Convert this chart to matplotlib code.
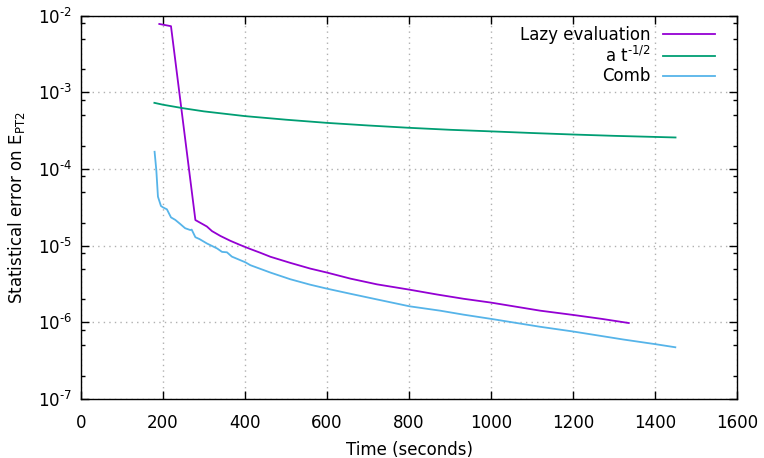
import math
import matplotlib
matplotlib.use('Agg')
import matplotlib.pyplot as plt
from matplotlib.ticker import LogLocator, FixedLocator, NullFormatter, FuncFormatter

# Lazy evaluation run: error vs wall time
lazy_t = [191, 219.5, 279, 307, 319.5, 340, 364, 388.5, 413, 437, 462, 510.5,
          559, 600, 657, 722, 801, 868, 933, 1000, 1120, 1200, 1270, 1336]
lazy_err = [7.8e-3, 7.3e-3, 2.16e-5, 1.78e-5, 1.55e-5, 1.34e-5, 1.16e-5, 1.02e-5,
            9.05e-6, 8.1e-6, 7.17e-6, 5.97e-6, 5.03e-6, 4.46e-6, 3.72e-6, 3.13e-6,
            2.67e-6, 2.31e-6, 2.03e-6, 1.81e-6, 1.42e-6, 1.25e-6, 1.11e-6, 9.8e-7]

# a t^-1/2 reference curve
fit_t = [179, 200, 250, 300, 400, 500, 600, 700, 800, 900, 1000, 1100, 1200, 1300, 1450]
fit_err = [7.3e-4, 6.9e-4, 6.2e-4, 5.65e-4, 4.9e-4, 4.4e-4, 4.0e-4, 3.7e-4, 3.45e-4,
           3.25e-4, 3.1e-4, 2.95e-4, 2.82e-4, 2.71e-4, 2.58e-4]

# Comb run
comb_t = [179.5, 183.7, 187.7, 195, 200, 209.6, 219.5, 230, 242, 254, 266.6, 270,
          279, 289, 307, 332, 344, 356, 368, 401, 413, 462, 510.5, 559, 600, 657,
          722, 801, 876, 933, 1000, 1120, 1200, 1323, 1400, 1449.5]
comb_err = [1.68e-4, 9.7e-5, 4.36e-5, 3.3e-5, 3.16e-5, 2.98e-5, 2.34e-5, 2.17e-5,
            1.92e-5, 1.69e-5, 1.6e-5, 1.62e-5, 1.29e-5, 1.22e-5, 1.07e-5, 9.2e-6,
            8.3e-6, 8.2e-6, 7.2e-6, 6.07e-6, 5.57e-6, 4.46e-6, 3.65e-6, 3.1e-6,
            2.75e-6, 2.36e-6, 1.99e-6, 1.62e-6, 1.42e-6, 1.26e-6, 1.11e-6, 8.75e-7,
            7.6e-7, 5.97e-7, 5.2e-7, 4.73e-7]

x_ticks = [0, 200, 400, 600, 800, 1000, 1200, 1400, 1600]

plt.rcParams['font.family'] = ['DejaVu Sans']
plt.rcParams['mathtext.fontset'] = 'dejavusans'
plt.rcParams['axes.unicode_minus'] = False
FS = 12


# powers of ten with a plain hyphen in the exponent
def pow10(v, pos):
    n = int(round(math.log10(v)))
    sign = '\\text{-}' if n < 0 else ''
    return '10$^{%s%d}$' % (sign, abs(n))


fig = plt.figure(figsize=(7.64, 4.58), dpi=100)
ax = fig.add_axes([0.106, 0.1288, 0.8587, 0.8369])

ax.plot(lazy_t, lazy_err, color='#9400D3', lw=1.3, label='Lazy evaluation')
ax.plot(fit_t, fit_err, color='#009E73', lw=1.3, label='a t$^{\\text{-}1/2}$')
ax.plot(comb_t, comb_err, color='#56B4E9', lw=1.3, label='Comb')

ax.set_yscale('log')
ax.set_xlim(0, 1600)
ax.set_ylim(1e-7, 1e-2)
ax.xaxis.set_major_locator(FixedLocator(x_ticks))
ax.yaxis.set_major_locator(LogLocator(base=10, numticks=10))
ax.yaxis.set_major_formatter(FuncFormatter(pow10))
ax.yaxis.set_minor_locator(LogLocator(base=10, subs=(2, 5, 8), numticks=10))
ax.yaxis.set_minor_formatter(NullFormatter())

ax.grid(True, which='major', color='#b0b0b0', linestyle=(0, (1, 3)), lw=1.0)
ax.tick_params(which='both', direction='in', top=True, right=True,
               labelsize=FS, width=1.0, color='black')
ax.tick_params(which='major', length=6)
ax.tick_params(which='minor', length=3)
ax.tick_params(axis='x', which='major', pad=10.5)
ax.tick_params(axis='y', which='major', pad=6.5)
for sp in ax.spines.values():
    sp.set_linewidth(1.0)

ax.set_xlabel('Time (seconds)', fontsize=FS, labelpad=6.5)
ax.set_ylabel('Statistical error on E$_{\\mathrm{PT2}}$', fontsize=FS, labelpad=8)

ax.legend(loc='upper right', bbox_to_anchor=(0.9665, 0.973), frameon=False,
          markerfirst=False, fontsize=FS, handlelength=3.1, handletextpad=0.75,
          borderpad=0, borderaxespad=0, labelspacing=0.1)

fig.savefig('out.png', dpi=100)
